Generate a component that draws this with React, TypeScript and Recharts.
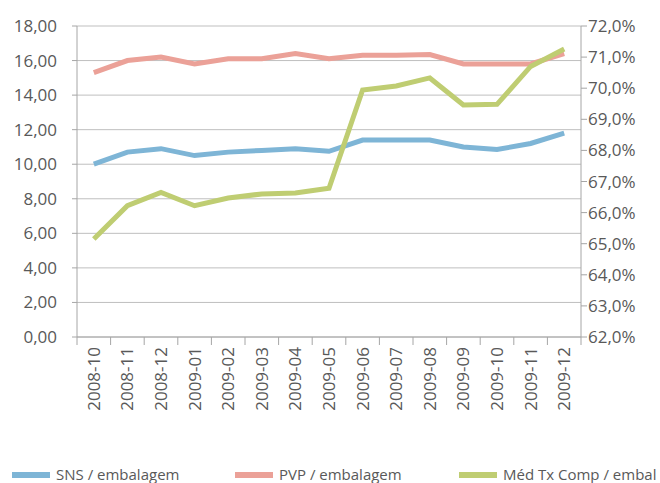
import React from "react";
import {
  CartesianGrid,
  Line,
  LineChart,
  XAxis,
  YAxis,
} from "recharts";

const months = [
  "2008-10", "2008-11", "2008-12", "2009-01", "2009-02", "2009-03", "2009-04", "2009-05",
  "2009-06", "2009-07", "2009-08", "2009-09", "2009-10", "2009-11", "2009-12",
];
const snsPerPack = [10.0, 10.7, 10.9, 10.5, 10.7, 10.8, 10.9, 10.75, 11.4, 11.4, 11.4, 11.0, 10.85, 11.2, 11.8];
const pvpPerPack = [15.3, 16.0, 16.2, 15.8, 16.1, 16.1, 16.4, 16.1, 16.3, 16.3, 16.35, 15.8, 15.8, 15.8, 16.4];
const compRate = [65.15, 66.22, 66.65, 66.22, 66.47, 66.6, 66.63, 66.78, 69.94, 70.07, 70.33, 69.46, 69.48, 70.7, 71.26];

const leftTicks = [0, 2, 4, 6, 8, 10, 12, 14, 16, 18];
const rightTicks = [62, 63, 64, 65, 66, 67, 68, 69, 70, 71, 72];

const seriesNames = ["SNS / embalagem", "PVP / embalagem", "Méd Tx Comp / embal"];
const colors = ["#7eb5d6", "#eba198", "#bfcd72"];

const data = months.map((m, i) => ({
  month: m,
  sns: snsPerPack[i],
  pvp: pvpPerPack[i],
  comp: compRate[i],
}));

const FONT = "'Open Sans', 'Noto Sans', sans-serif";
const TEXT = "#595959";
const AXIS = "#a6a6a6";

// month label plus the tick marks between categories (Excel style)
const MonthTick = (props: any) => {
  const { x, y, payload, index } = props;
  const half = payload.offset || 0;
  return (
    <g>
      <line x1={x - half} x2={x - half} y1={y} y2={y + 8} stroke={AXIS} />
      {index === months.length - 1 && (
        <line x1={x + half} x2={x + half} y1={y} y2={y + 8} stroke={AXIS} />
      )}
      <g transform={`translate(${x},${y + 10})`}>
        <text
          transform="rotate(-90)"
          textAnchor="end"
          dy="0.35em"
          fill={TEXT}
          fontSize={17}
          fontFamily={FONT}
        >
          {payload.value}
        </text>
      </g>
    </g>
  );
};

const App = () => {
  return (
    <div style={{ position: "absolute", left: 0, top: 0, width: 660, height: 483, background: "#fff", overflow: "hidden" }}>
      <LineChart
        width={660}
        height={483}
        data={data}
        margin={{ top: 26, right: 0, left: 0, bottom: 0 }}
      >
        <CartesianGrid
          vertical={false}
          stroke="#bfbfbf"
          yAxisId="left"
          xAxisId="cat"
        />
        <XAxis
          xAxisId="cat"
          dataKey="month"
          scale="band"
          stroke={AXIS}
          tickLine={false}
          tickSize={0}
          tickMargin={0}
          interval={0}
          height={146}
          tick={<MonthTick />}
        />
        <YAxis
          yAxisId="left"
          domain={[0, 18]}
          ticks={leftTicks}
          width={77}
          tickSize={5}
          tickMargin={15}
          stroke={AXIS}
          tick={{ fill: TEXT, fontSize: 17, fontFamily: FONT }}
          tickFormatter={(v: number) => v.toFixed(2).replace(".", ",")}
          interval={0}
        />
        <YAxis
          yAxisId="right"
          orientation="right"
          domain={[62, 72]}
          ticks={rightTicks}
          width={79}
          tickSize={6}
          tickMargin={1}
          stroke={AXIS}
          tick={{ fill: TEXT, fontSize: 17, fontFamily: FONT }}
          tickFormatter={(v: number) => v.toFixed(1).replace(".", ",") + "%"}
          interval={0}
        />
        <Line
          xAxisId="cat"
          yAxisId="left"
          dataKey="sns"
          name={seriesNames[0]}
          stroke={colors[0]}
          strokeWidth={5}
          dot={false}
          isAnimationActive={false}
        />
        <Line
          xAxisId="cat"
          yAxisId="left"
          dataKey="pvp"
          name={seriesNames[1]}
          stroke={colors[1]}
          strokeWidth={5}
          dot={false}
          isAnimationActive={false}
        />
        <Line
          xAxisId="cat"
          yAxisId="right"
          dataKey="comp"
          name={seriesNames[2]}
          stroke={colors[2]}
          strokeWidth={5}
          dot={false}
          isAnimationActive={false}
        />
      </LineChart>
      <div
        style={{
          position: "absolute",
          top: 466,
          left: 0,
          width: 660,
          height: 17,
          fontFamily: FONT,
          fontSize: 15,
          lineHeight: "17px",
          color: TEXT,
        }}
      >
        {seriesNames.map((name, i) => (
          <div
            key={name}
            style={{
              position: "absolute",
              left: [12, 235, 459][i],
              top: 0,
              display: "flex",
              alignItems: "center",
              whiteSpace: "nowrap",
              height: 17,
            }}
          >
            <span style={{ display: "inline-block", width: 38, height: 6, background: colors[i], marginRight: 6 }} />
            <span>{name}</span>
          </div>
        ))}
      </div>
    </div>
  );
};

export default App;
